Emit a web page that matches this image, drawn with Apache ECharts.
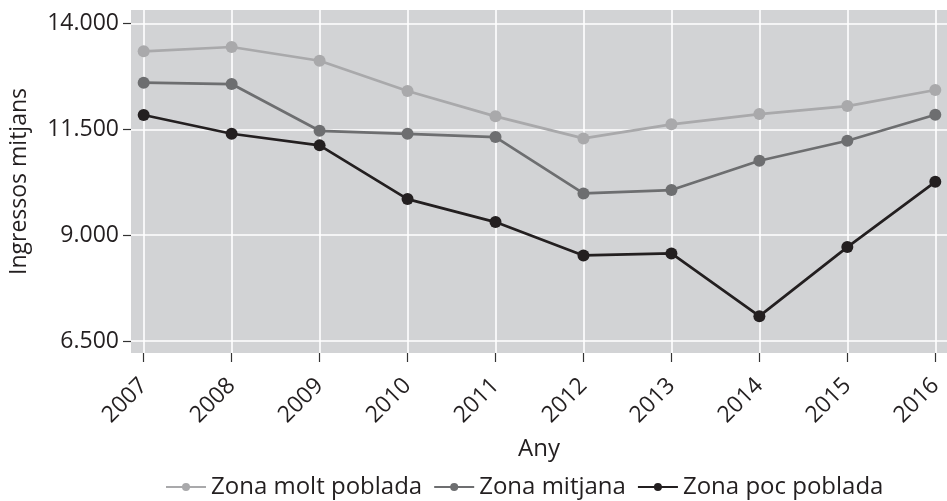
<!DOCTYPE html>
<html>
<head>
<meta charset="utf-8">
<script src="https://cdn.jsdelivr.net/npm/echarts@6/dist/echarts.min.js"></script>
<style>
  html, body { margin: 0; padding: 0; background: #fff; }
  #main { width: 947px; height: 501px; }
</style>
</head>
<body>
<div id="main"></div>
<script>
// dades llegides del gràfic
const years = [2007, 2008, 2009, 2010, 2011, 2012, 2013, 2014, 2015, 2016]
const moltPoblada = [13347, 13449, 13125, 12408, 11810, 11289, 11621, 11864, 12053, 12432]
const mitjana = [12605, 12574, 11469, 11398, 11320, 9989, 10067, 10760, 11233, 11848]
const pocPoblada = [11841, 11398, 11124, 9854, 9310, 8522, 8569, 7087, 8719, 10263]
const yTicks = [6500, 9000, 11500, 14000]
const seriesNames = ['Zona molt poblada', 'Zona mitjana', 'Zona poc poblada']

const font = 'Open Sans'
const colors = ['#a9a9ab', '#6d6e70', '#231f20']

function pairs(arr) {
  return arr.map((v, i) => [years[i], v])
}

let chart = echarts.init(document.getElementById('main'), null, { renderer: 'canvas' })

function makeSeries(name, data, color) {
  return {
    name: name,
    type: 'line',
    data: pairs(data),
    symbol: 'circle',
    symbolSize: 12,
    showSymbol: true,
    itemStyle: { color: color },
    lineStyle: { color: color, width: 2.7 },
    emphasis: { disabled: true }
  }
}

let option = {
  animation: false,
  backgroundColor: '#fff',
  textStyle: { fontFamily: font },
  grid: {
    left: 129,
    right: 0,
    top: 10,
    bottom: 148,
    show: true,
    backgroundColor: '#d2d3d5',
    borderWidth: 0
  },
  xAxis: {
    type: 'value',
    min: 2006.856,
    max: 2016.133,
    name: 'Any',
    nameLocation: 'middle',
    nameGap: 84,
    nameTextStyle: { fontSize: 24, color: '#231f20', fontFamily: font },
    axisLine: { show: false },
    axisTick: { show: true, length: 9, lineStyle: { color: '#333', width: 1.2 }, customValues: years },
    axisLabel: {
      customValues: years,
      rotate: 45,
      fontSize: 23,
      color: '#231f20',
      margin: 29,
      formatter: v => String(v)
    },
    splitLine: { show: true, lineStyle: { color: '#fff', width: 1.6 }, customValues: years }
  },
  yAxis: {
    type: 'value',
    min: 6216,
    max: 14324,
    name: 'Ingressos mitjans',
    nameLocation: 'middle',
    nameGap: 100,
    nameTextStyle: { fontSize: 23, color: '#231f20', fontFamily: font },
    axisLine: { show: false },
    axisTick: { show: true, length: 8, lineStyle: { color: '#333', width: 1.2 }, customValues: yTicks },
    axisLabel: {
      customValues: yTicks,
      fontSize: 23,
      color: '#231f20',
      margin: 12,
      formatter: v => v.toLocaleString('de-DE')
    },
    splitLine: { show: true, lineStyle: { color: '#fff', width: 1.6 }, customValues: yTicks }
  },
  legend: {
    bottom: -3,
    left: 160,
    itemWidth: 40,
    itemHeight: 10,
    itemGap: 11,
    textStyle: { fontSize: 24, color: '#231f20', fontFamily: font },
    data: seriesNames
  },
  series: [
    makeSeries(seriesNames[0], moltPoblada, colors[0]),
    makeSeries(seriesNames[1], mitjana, colors[1]),
    makeSeries(seriesNames[2], pocPoblada, colors[2])
  ]
}

chart.setOption(option)
</script>
</body>
</html>
